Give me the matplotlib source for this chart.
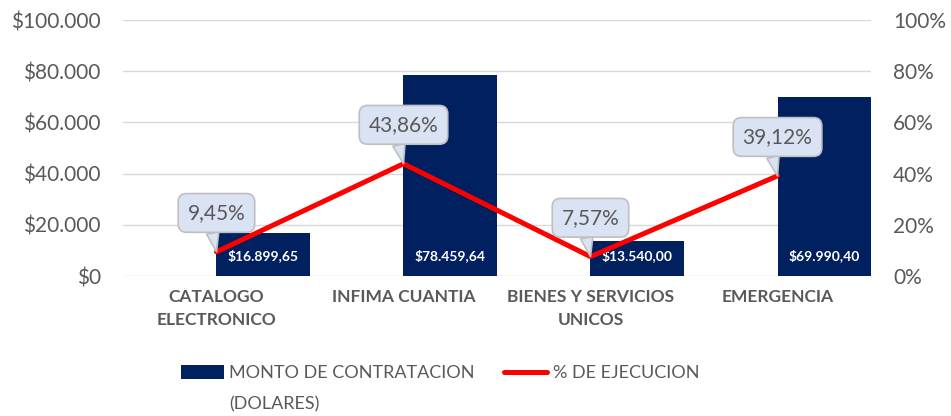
import matplotlib
matplotlib.use("Agg")
import matplotlib.pyplot as plt
from matplotlib.ticker import FuncFormatter

plt.rcParams["font.family"] = ["Lato", "DejaVu Sans"]

# data
categories = ["CATALOGO\nELECTRONICO", "INFIMA CUANTIA", "BIENES Y SERVICIOS\nUNICOS", "EMERGENCIA"]
montos = [16899.65, 78459.64, 13540.00, 69990.40]
ejecucion = [0.0945, 0.4386, 0.0757, 0.3912]
monto_labels = ["$16.899,65", "$78.459,64", "$13.540,00", "$69.990,40"]
pct_labels = ["9,45%", "43,86%", "7,57%", "39,12%"]

BAR_COLOR = "#002060"
LINE_COLOR = "#ff0000"
TEXT_GRAY = "#595959"


def miles(v, _pos):
    return "$" + f"{int(v):,}".replace(",", ".")


fig = plt.figure(figsize=(9.51, 4.16), dpi=100)
ax = fig.add_axes([0.1293, 0.3365, 0.7866, 0.6154])
ax2 = ax.twinx()

x = list(range(len(categories)))
ax.bar(x, montos, width=0.5, align="edge", color=BAR_COLOR, zorder=2)
for i, lab in enumerate(monto_labels):
    ax.annotate(lab, xy=(i + 0.25, 0), xytext=(0, 15), textcoords="offset points",
                ha="center", va="center", color="white", fontsize=10, fontweight="bold",
                zorder=3)

ax.set_xlim(-0.5, 3.5)
ax.set_ylim(0, 100000)
ax.set_yticks(range(0, 100001, 20000))
ax.yaxis.set_major_formatter(FuncFormatter(miles))
ax.yaxis.grid(True, color="#d9d9d9", lw=1, zorder=0)
ax.set_axisbelow(True)
ax.set_xticks(x)
ax.set_xticklabels(categories, fontweight="bold", fontsize=12.5, color=TEXT_GRAY,
                   linespacing=1.55)
ax.tick_params(axis="x", length=0, pad=9)
ax.tick_params(axis="y", length=0, labelsize=15, labelcolor=TEXT_GRAY, pad=16)

line, = ax2.plot(x, ejecucion, color=LINE_COLOR, lw=3.6, zorder=4,
                 solid_capstyle="round")
ax2.set_ylim(0, 1)
ax2.set_yticks([0, 0.2, 0.4, 0.6, 0.8, 1.0])
ax2.yaxis.set_major_formatter(FuncFormatter(lambda v, _p: f"{int(round(v * 100))}%"))
ax2.tick_params(axis="y", length=0, labelsize=15, labelcolor=TEXT_GRAY, pad=16)

for a in (ax, ax2):
    for s in a.spines.values():
        s.set_visible(False)

# callouts above each point of the line
for i, (p, lab) in enumerate(zip(ejecucion, pct_labels)):
    ax2.annotate(lab, xy=(i, p), xytext=(0, 28), textcoords="offset points",
                 ha="center", va="center", fontsize=15, color=TEXT_GRAY, zorder=5,
                 bbox=dict(boxstyle="round,pad=0.45,rounding_size=0.4",
                           fc="#dae3f3", ec="#bfbfbf", lw=1.2),
                 arrowprops=dict(arrowstyle="wedge,tail_width=0.6,shrink_factor=0.5",
                                 fc="#dae3f3", ec="#bfbfbf", lw=1.2,
                                 connectionstyle="arc3", shrinkA=0, shrinkB=0,
                                 relpos=(0.4, 0.0)))

# legend: first line in the legend, the wrapped part as a text below it
handles = [ax.containers[0], line]
labels = ["MONTO DE CONTRATACION", "% DE EJECUCION"]
leg = fig.legend(handles, labels, loc="center left", bbox_to_anchor=(0.19, 0.103),
                 ncol=2, frameon=False, fontsize=13, handlelength=2.4, handleheight=0.82,
                 handletextpad=0.3, columnspacing=1.6, labelcolor=TEXT_GRAY,
                 borderpad=0, borderaxespad=0)
fig.canvas.draw()
bb = leg.get_texts()[0].get_window_extent().transformed(fig.transFigure.inverted())
fig.text(bb.x0, bb.y0 - 0.075, "(DOLARES)", fontsize=13, color=TEXT_GRAY,
         ha="left", va="bottom")

fig.savefig("out.png", dpi=100)
